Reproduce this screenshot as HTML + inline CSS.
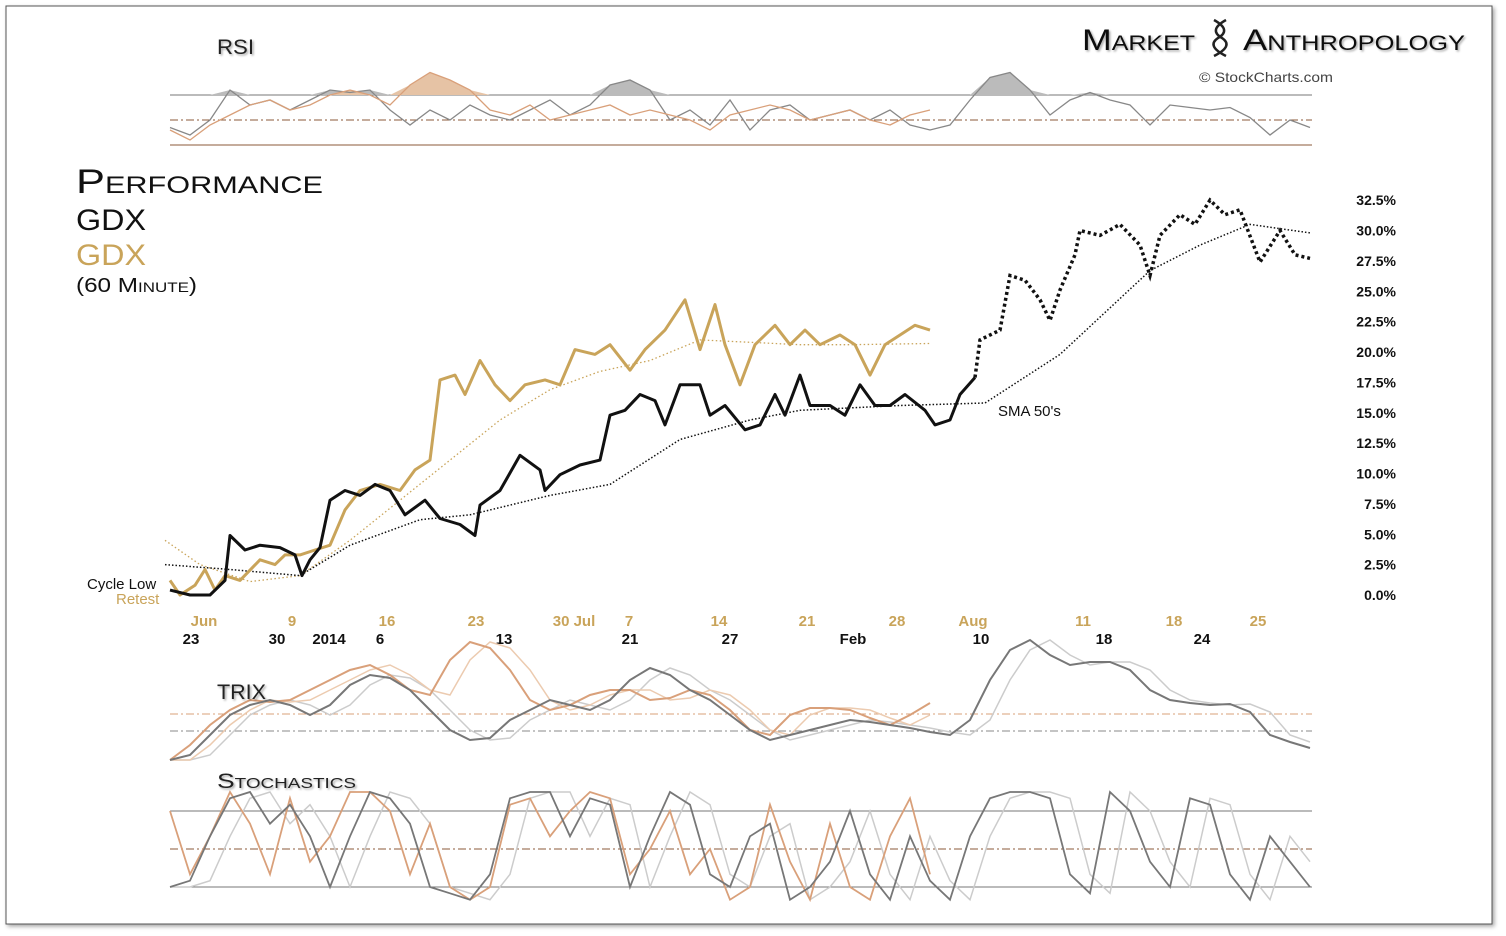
<!DOCTYPE html>
<html><head><meta charset="utf-8">
<style>
body{margin:0;background:#fff;width:1506px;height:936px;overflow:hidden;font-family:"Liberation Sans",sans-serif}
svg{position:absolute;left:0;top:0}
.sc{font-family:"Liberation Sans",sans-serif;font-variant:small-caps}
</style></head>
<body>
<svg id="chart" width="1506" height="936">
<defs>
<filter id="sh" x="-5%" y="-5%" width="110%" height="110%"><feDropShadow dx="2" dy="2" stdDeviation="2" flood-color="#000" flood-opacity="0.35"/></filter>
<filter id="tsh"><feDropShadow dx="1.5" dy="1.5" stdDeviation="1" flood-color="#000" flood-opacity="0.35"/></filter>
</defs>
<rect x="6" y="6" width="1486" height="918" fill="#fff" stroke="#555" stroke-width="1" filter="url(#sh)"/>
<g id="layer"></g>
<text x="1082" y="50" class="sc" font-size="30" fill="#111" filter="url(#tsh)" textLength="113" lengthAdjust="spacingAndGlyphs">Market</text>
<g stroke="#222" stroke-width="2.5" fill="none"><path d="M1214 20 Q1232 30 1218 38 Q1206 46 1226 56"/><path d="M1226 20 Q1208 30 1222 38 Q1234 46 1214 56"/></g>
<text x="1243" y="50" class="sc" font-size="30" fill="#111" filter="url(#tsh)" textLength="222" lengthAdjust="spacingAndGlyphs">Anthropology</text>
<text x="1199" y="82" font-size="14" fill="#444" textLength="134" lengthAdjust="spacingAndGlyphs">© StockCharts.com</text>
<text x="217" y="54" class="sc" font-size="21" fill="#222" filter="url(#tsh)" textLength="37" lengthAdjust="spacingAndGlyphs">RSI</text>
<text x="217" y="699" class="sc" font-size="21" fill="#222" filter="url(#tsh)" textLength="49" lengthAdjust="spacingAndGlyphs">TRIX</text>
<text x="217" y="788" class="sc" font-size="21" fill="#222" filter="url(#tsh)" textLength="139" lengthAdjust="spacingAndGlyphs">Stochastics</text>
<text x="76" y="193" class="sc" font-size="34" fill="#111" textLength="247" lengthAdjust="spacingAndGlyphs">Performance</text>
<text x="76" y="230" font-size="30" fill="#111" textLength="70" lengthAdjust="spacingAndGlyphs">GDX</text>
<text x="76" y="265" font-size="30" fill="#c9a45a" textLength="70" lengthAdjust="spacingAndGlyphs">GDX</text>
<text x="76" y="292" class="sc" font-size="20" fill="#111" textLength="121" lengthAdjust="spacingAndGlyphs">(60 Minute)</text>
<text x="87" y="589" font-size="15" fill="#111">Cycle Low</text>
<text x="116" y="604" font-size="15" fill="#c9a45a">Retest</text>
<text x="998" y="416" font-size="15" fill="#111">SMA 50's</text>
</svg>
<script>
// ---- data ----
const blackVals=[0.4,0,0,1.2,4.9,3.7,4.1,3.9,3.3,1.6,2.9,3.9,7.8,8.6,8.2,9.1,8.6,6.6,7.8,6.3,5.8,4.9,7.4,8.6,11.5,10.3,8.6,9.9,10.7,11.1,14.8,15.2,16.5,16.0,14.0,17.3,17.3,14.8,15.6,13.6,14.0,16.5,14.8,18.1,15.6,15.6,14.8,17.3,15.6,15.6,16.5,15.2,14.0,14.4,16.5,17.9];
const blackX=[170,190,210,225,230,245,260,280,295,302,310,320,330,345,360,375,390,405,425,440,460,475,480,500,520,540,545,560,580,600,610,625,640,655,665,680,700,710,725,745,760,775,785,800,810,830,845,860,875,890,905,925,935,950,960,975];
const dotVals=[17.9,21.0,21.8,26.3,25.9,24.3,22.6,25.1,28.0,30.0,29.6,30.5,28.8,26.3,29.6,31.3,30.5,32.5,31.3,31.7,27.4,30.0,28.0,27.7];
const dotX=[975,980,1000,1010,1025,1040,1050,1060,1075,1080,1100,1120,1140,1150,1160,1180,1195,1210,1225,1240,1260,1280,1295,1310];
const smaBlackVals=[2.5,2.1,1.6,4.1,6.2,6.6,8.2,9.1,12.8,14.4,15.2,15.6,15.8,19.8,26.7,28.8,30.5,29.8];
const smaBlackX=[165,230,300,350,420,470,550,610,680,750,800,900,985,1060,1150,1200,1250,1310];
const goldVals=[1.2,0,0.8,2.1,0.4,1.6,1.2,2.9,2.5,3.3,3.3,3.7,4.1,7.0,8.6,9.1,8.6,10.3,11.1,17.7,18.1,16.5,19.3,17.3,16.0,17.3,17.7,17.3,20.2,19.8,20.6,18.5,20.2,21.8,24.3,20.2,23.9,20.6,17.3,20.6,22.2,20.6,21.8,20.6,21.4,20.6,18.1,20.6,21.4,22.2,21.8];
const goldX=[170,180,195,205,215,225,240,260,275,285,300,315,330,345,360,380,400,415,430,440,455,465,480,495,510,525,545,560,575,595,610,630,645,665,685,700,715,725,740,755,775,790,805,820,840,855,870,885,900,915,930];
const smaGoldVals=[4.5,2.5,1.1,1.6,4.5,7.8,11.1,14.4,16.9,18.4,19.3,21.0,20.8,20.6,20.6,20.7];
const smaGoldX=[165,200,250,300,350,400,450,500,550,600,650,700,750,800,850,930];
const yTicks=["0.0%","2.5%","5.0%","7.5%","10.0%","12.5%","15.0%","17.5%","20.0%","22.5%","25.0%","27.5%","30.0%","32.5%"];
const yTickVals=[0,2.5,5,7.5,10,12.5,15,17.5,20,22.5,25,27.5,30,32.5];
const goldDates=["Jun","9","16","23","30 Jul","7","14","21","28","Aug","11","18","25"];
const goldDateX=[204,292,387,476,574,629,719,807,897,973,1083,1174,1258];
const blackDates=["23","30","2014","6","13","21","27","Feb","10","18","24"];
const blackDateX=[191,277,329,380,504,630,730,853,981,1104,1202];
const rsiGray=[44,38,50,74,62,66,58,66,74,72,74,58,46,58,50,62,54,50,58,66,54,62,78,82,74,50,58,46,66,42,58,62,50,54,58,50,58,46,42,46,66,84,88,74,54,66,72,66,62,46,62,60,58,60,52,38,50,44];
const rsiOrange=[42,34,46,54,62,66,58,62,70,74,70,62,78,88,82,74,58,54,62,50,54,58,62,54,58,54,50,42,54,58,62,58,50,54,58,50,46,54,58];
const trixGray=[-2.9,-2.4,-0.4,1.6,2.6,3.1,2.6,1.6,2.6,4.6,5.6,5.3,4.1,2.1,0.1,-0.9,-0.7,1.1,2.1,3.1,2.6,2.1,3.1,5.1,6.3,5.6,4.1,3.1,1.6,0.1,-0.9,-0.4,0.1,0.6,1.1,0.9,0.6,0.3,-0.1,-0.4,1.1,5.1,8.1,9.1,7.6,6.6,6.9,6.9,6.1,4.1,3.1,2.8,2.6,2.7,1.9,-0.4,-1.1,-1.7];
const trixOrange=[-2.9,-1.4,0.6,2.1,3.1,2.9,3.1,4.1,5.1,6.1,6.6,5.6,4.1,3.6,7.1,8.9,8.3,6.1,3.1,2.1,2.6,3.6,4.1,4.1,3.1,3.3,4.1,3.6,2.1,0.1,-0.4,1.6,2.3,2.3,2.1,1.3,0.6,1.6,2.8];
const stochGray=[20,25,60,90,95,70,85,60,20,60,95,90,70,20,15,10,30,90,95,95,60,90,85,20,60,95,85,30,20,60,70,10,20,40,80,30,10,60,25,10,60,90,95,95,90,30,15,95,80,40,20,90,85,30,10,60,40,20];
const stochOrange=[80,30,60,95,70,30,90,40,60,95,95,80,30,70,20,10,20,85,90,60,80,95,90,30,50,80,30,50,10,20,85,40,10,70,20,10,60,90,30];

// ---- scales ----
const NS="http://www.w3.org/2000/svg";
const layer=document.getElementById('layer');
const yP=v=>595-v*12.15;
const yR=v=>120-(v-50)*1.25;
const yT=v=>731-v*10;
const yS=v=>849-(v-50)*1.267;
const xIdx=(i,n,x0,x1)=>x0+i*(x1-x0)/(n-1);
function mk(tag,attrs,name,parent){const e=document.createElementNS(NS,tag);for(const k in attrs)e.setAttribute(k,attrs[k]);


(parent||layer).appendChild(e);return e;}
function ptsXY(xs,vs,ys){return vs.map((v,i)=>xs[i].toFixed(1)+','+ys(v).toFixed(1)).join(' ');}
function ptsIdx(vs,x0,x1,ys){return vs.map((v,i)=>xIdx(i,vs.length,x0,x1).toFixed(1)+','+ys(v).toFixed(1)).join(' ');}
function hline(y,x0,x1,st,col,name){mk('line',{x1:x0,x2:x1,y1:y,y2:y,stroke:col,'stroke-width':1,'stroke-dasharray':st||''},name);}

// RSI panel
hline(95,170,1312,'','#777','rsi-upper-line');
hline(145,170,1312,'','#8b5a3a','rsi-lower-line');
hline(120,170,1312,'8 3 2 3','#8b5a3a','rsi-mid-line');
function fillAbove(vs,x0,x1,col,name){
  const p=vs.map((v,i)=>[xIdx(i,vs.length,x0,x1),Math.min(yR(v),95)]);
  const d='M'+x0+',95 L'+p.map(q=>q[0].toFixed(1)+','+q[1].toFixed(1)).join(' L')+' L'+x1+',95 Z';
  mk('path',{d:d,fill:col,stroke:'none'},name);}
fillAbove(rsiGray,170,1310,'#bbb','rsi-gray-overbought-fill');
fillAbove(rsiOrange,170,930,'#e6c3a5','rsi-orange-overbought-fill');
mk('polyline',{points:ptsIdx(rsiGray,170,1310,yR),fill:'none',stroke:'#888','stroke-width':1.3},'rsi-gray-line');
mk('polyline',{points:ptsIdx(rsiOrange,170,930,yR),fill:'none',stroke:'#d9a07a','stroke-width':1.3},'rsi-orange-line');

// main
mk('polyline',{points:ptsXY(smaGoldX,smaGoldVals,yP),fill:'none',stroke:'#c9a45a','stroke-width':1.3,'stroke-dasharray':'1.5 2.5'},'sma-gold');
mk('polyline',{points:ptsXY(smaBlackX,smaBlackVals,yP),fill:'none',stroke:'#111','stroke-width':1.5,'stroke-dasharray':'1.5 2'},'sma-black');
mk('polyline',{points:ptsXY(goldX,goldVals,yP),fill:'none',stroke:'#c9a45a','stroke-width':3,'stroke-linejoin':'round'},'gdx-gold-line');
mk('polyline',{points:ptsXY(blackX,blackVals,yP),fill:'none',stroke:'#111','stroke-width':3,'stroke-linejoin':'round'},'gdx-black-line');
mk('polyline',{points:ptsXY(dotX,dotVals,yP),fill:'none',stroke:'#111','stroke-width':3.5,'stroke-dasharray':'3 3'},'gdx-black-projection');
yTicks.forEach((t,i)=>{const e=mk('text',{x:1396,y:yP(yTickVals[i])+5,'text-anchor':'end','font-size':14,'font-weight':'bold',fill:'#111'},'y-tick-label');e.textContent=t;});
goldDates.forEach((t,i)=>{const e=mk('text',{x:goldDateX[i],y:626,'text-anchor':'middle','font-size':15,'font-weight':'bold',fill:'#c9a45a'},'x-tick-gold');e.textContent=t;});
blackDates.forEach((t,i)=>{const e=mk('text',{x:blackDateX[i],y:644,'text-anchor':'middle','font-size':15,'font-weight':'bold',fill:'#111'},'x-tick-black');e.textContent=t;});

// TRIX
hline(714,170,1312,'8 3 2 3','#d9a07a','trix-orange-zero');
hline(731,170,1312,'8 3 2 3','#888','trix-gray-zero');
const lag=a=>a.map((v,i)=>a[Math.max(0,i-1)]);
mk('polyline',{points:ptsIdx(lag(trixGray),170,1310,yT),fill:'none',stroke:'#ccc','stroke-width':1.5},'trix-gray-signal');
mk('polyline',{points:ptsIdx(lag(trixOrange),170,930,yT),fill:'none',stroke:'#eccbb0','stroke-width':1.5},'trix-orange-signal');
mk('polyline',{points:ptsIdx(trixOrange,170,930,yT),fill:'none',stroke:'#d9a07a','stroke-width':2},'trix-orange-line');
mk('polyline',{points:ptsIdx(trixGray,170,1310,yT),fill:'none',stroke:'#777','stroke-width':2},'trix-gray-line');

// Stochastics
hline(811,170,1312,'','#777','stoch-upper-line');
hline(887,170,1312,'','#777','stoch-lower-line');
hline(849,170,1312,'8 3 2 3','#8b5a3a','stoch-mid-line');
mk('polyline',{points:ptsIdx(lag(stochGray),170,1310,yS),fill:'none',stroke:'#ccc','stroke-width':1.5},'stoch-gray-signal');
mk('polyline',{points:ptsIdx(stochOrange,170,930,yS),fill:'none',stroke:'#d9a07a','stroke-width':1.8},'stoch-orange-line');
mk('polyline',{points:ptsIdx(stochGray,170,1310,yS),fill:'none',stroke:'#777','stroke-width':1.8},'stoch-gray-line');
</script>
</body></html>
